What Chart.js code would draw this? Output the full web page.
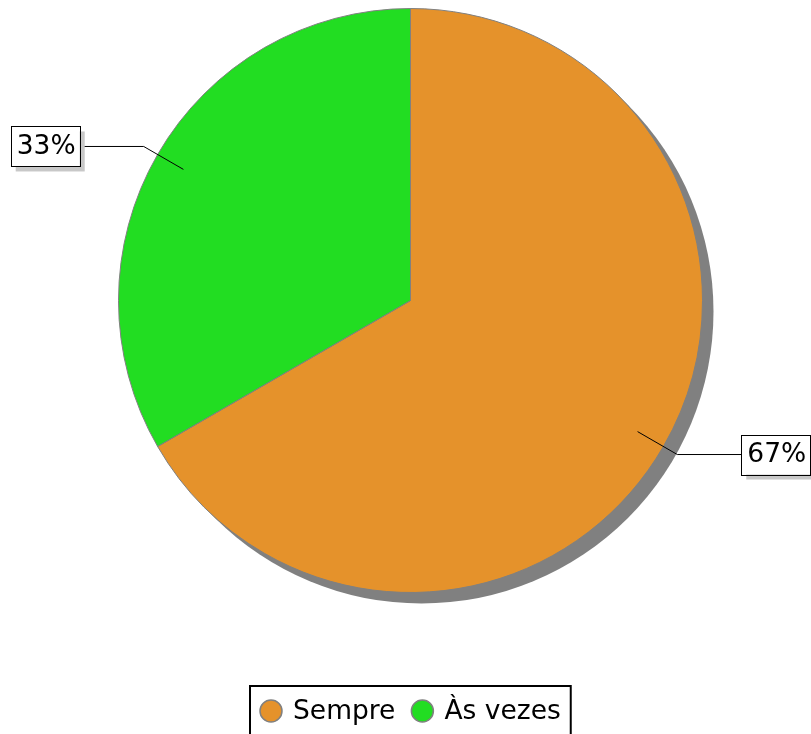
<!DOCTYPE html>
<html>
<head>
<meta charset="utf-8">
<script src="https://cdn.jsdelivr.net/npm/chart.js@4"></script>
<style>
  html, body { margin: 0; padding: 0; background: #fff; }
  #wrap { width: 811px; height: 734px; position: relative; }
</style>
</head>
<body>
<div id="wrap"><canvas id="pieChart" width="811" height="734"></canvas></div>
<script>
// Datos del gráfico
const categorias = ['Sempre', 'Às vezes'];
const valores = [2, 1];
const colores = ['#e5922b', '#22dd22'];

const FUENTE = '"DejaVu Sans", sans-serif';

// Sombra gris detrás de la torta
const sombraPlugin = {
  id: 'sombra',
  beforeDatasetsDraw(chart) {
    const arc = chart.getDatasetMeta(0).data[0];
    if (!arc) return;
    const ctx = chart.ctx;
    ctx.save();
    ctx.fillStyle = '#808080';
    ctx.beginPath();
    ctx.arc(arc.x + 11, arc.y + 11, arc.outerRadius, 0, Math.PI * 2);
    ctx.fill();
    ctx.restore();
  }
};

// Etiquetas con línea guía y caja
const etiquetasPlugin = {
  id: 'etiquetas',
  afterDatasetsDraw(chart) {
    const ctx = chart.ctx;
    const meta = chart.getDatasetMeta(0);
    const total = valores.reduce((a, b) => a + b, 0);
    meta.data.forEach((arc, i) => {
      const mid = (arc.startAngle + arc.endAngle) / 2;
      const r = arc.outerRadius;
      const cos = Math.cos(mid), sin = Math.sin(mid);
      const x1 = arc.x + cos * r * 0.898, y1 = arc.y + sin * r * 0.898;
      const x2 = arc.x + cos * r * 1.055, y2 = arc.y + sin * r * 1.055;
      const lado = cos >= 0 ? 1 : -1;
      const x3 = x2 + lado * 64;
      ctx.save();
      ctx.strokeStyle = '#000';
      ctx.lineWidth = 1;
      ctx.beginPath();
      ctx.moveTo(x1, y1);
      ctx.lineTo(x2, y2);
      ctx.lineTo(x3, y2);
      ctx.stroke();

      const texto = Math.round(valores[i] / total * 100) + '%';
      const w = 69, h = 40;
      const bx = lado > 0 ? x3 : x3 - w;
      const by = y2 - h / 2;
      ctx.fillStyle = '#c8c8c8';
      ctx.fillRect(bx + 5, by + 5, w, h);
      ctx.fillStyle = '#fff';
      ctx.fillRect(bx, by, w, h);
      ctx.strokeStyle = '#000';
      ctx.strokeRect(Math.round(bx) + 0.5, Math.round(by) + 0.5, w, h);
      ctx.fillStyle = '#000';
      ctx.font = '26.5px ' + FUENTE;
      ctx.textAlign = 'center';
      ctx.textBaseline = 'middle';
      ctx.fillText(texto, bx + w / 2 + 1, by + h / 2 + 1);
      ctx.restore();
    });
  }
};

// Leyenda en caja abajo
const leyendaPlugin = {
  id: 'leyendaCaja',
  afterDraw(chart) {
    const ctx = chart.ctx;
    ctx.save();
    ctx.font = '26.5px ' + FUENTE;
    ctx.textBaseline = 'middle';
    ctx.textAlign = 'left';
    const anchos = categorias.map(c => ctx.measureText(c).width);
    const radio = 11, sep = 11, gap = 16;
    let totalW = 0;
    anchos.forEach((a, i) => { totalW += radio * 2 + sep + a + (i < anchos.length - 1 ? gap : 0); });
    const padX = 10;
    const boxW = totalW + padX * 2;
    const boxX = 250;
    const boxY = 686, cy = 711;
    ctx.lineWidth = 2;
    ctx.strokeStyle = '#000';
    ctx.strokeRect(boxX, boxY, boxW, 60);
    let x = boxX + padX;
    categorias.forEach((c, i) => {
      ctx.beginPath();
      ctx.arc(x + radio, cy, radio, 0, Math.PI * 2);
      ctx.fillStyle = colores[i];
      ctx.fill();
      ctx.lineWidth = 1.5;
      ctx.strokeStyle = '#808080';
      ctx.stroke();
      x += radio * 2 + sep;
      ctx.fillStyle = '#000';
      ctx.fillText(c, x, cy + 1);
      x += anchos[i] + gap;
    });
    ctx.restore();
  }
};

const ctxPie = document.getElementById('pieChart').getContext('2d');
const pieChart = new Chart(ctxPie, {
  type: 'pie',
  data: {
    labels: categorias,
    datasets: [{
      data: valores,
      backgroundColor: colores,
      borderColor: '#808080',
      borderWidth: 1
    }]
  },
  options: {
    responsive: false,
    animation: false,
    layout: { padding: { left: 118, right: 108, top: 8, bottom: 141 } },
    plugins: {
      legend: { display: false },
      tooltip: { enabled: false }
    }
  },
  plugins: [sombraPlugin, etiquetasPlugin, leyendaPlugin]
});
</script>
</body>
</html>
